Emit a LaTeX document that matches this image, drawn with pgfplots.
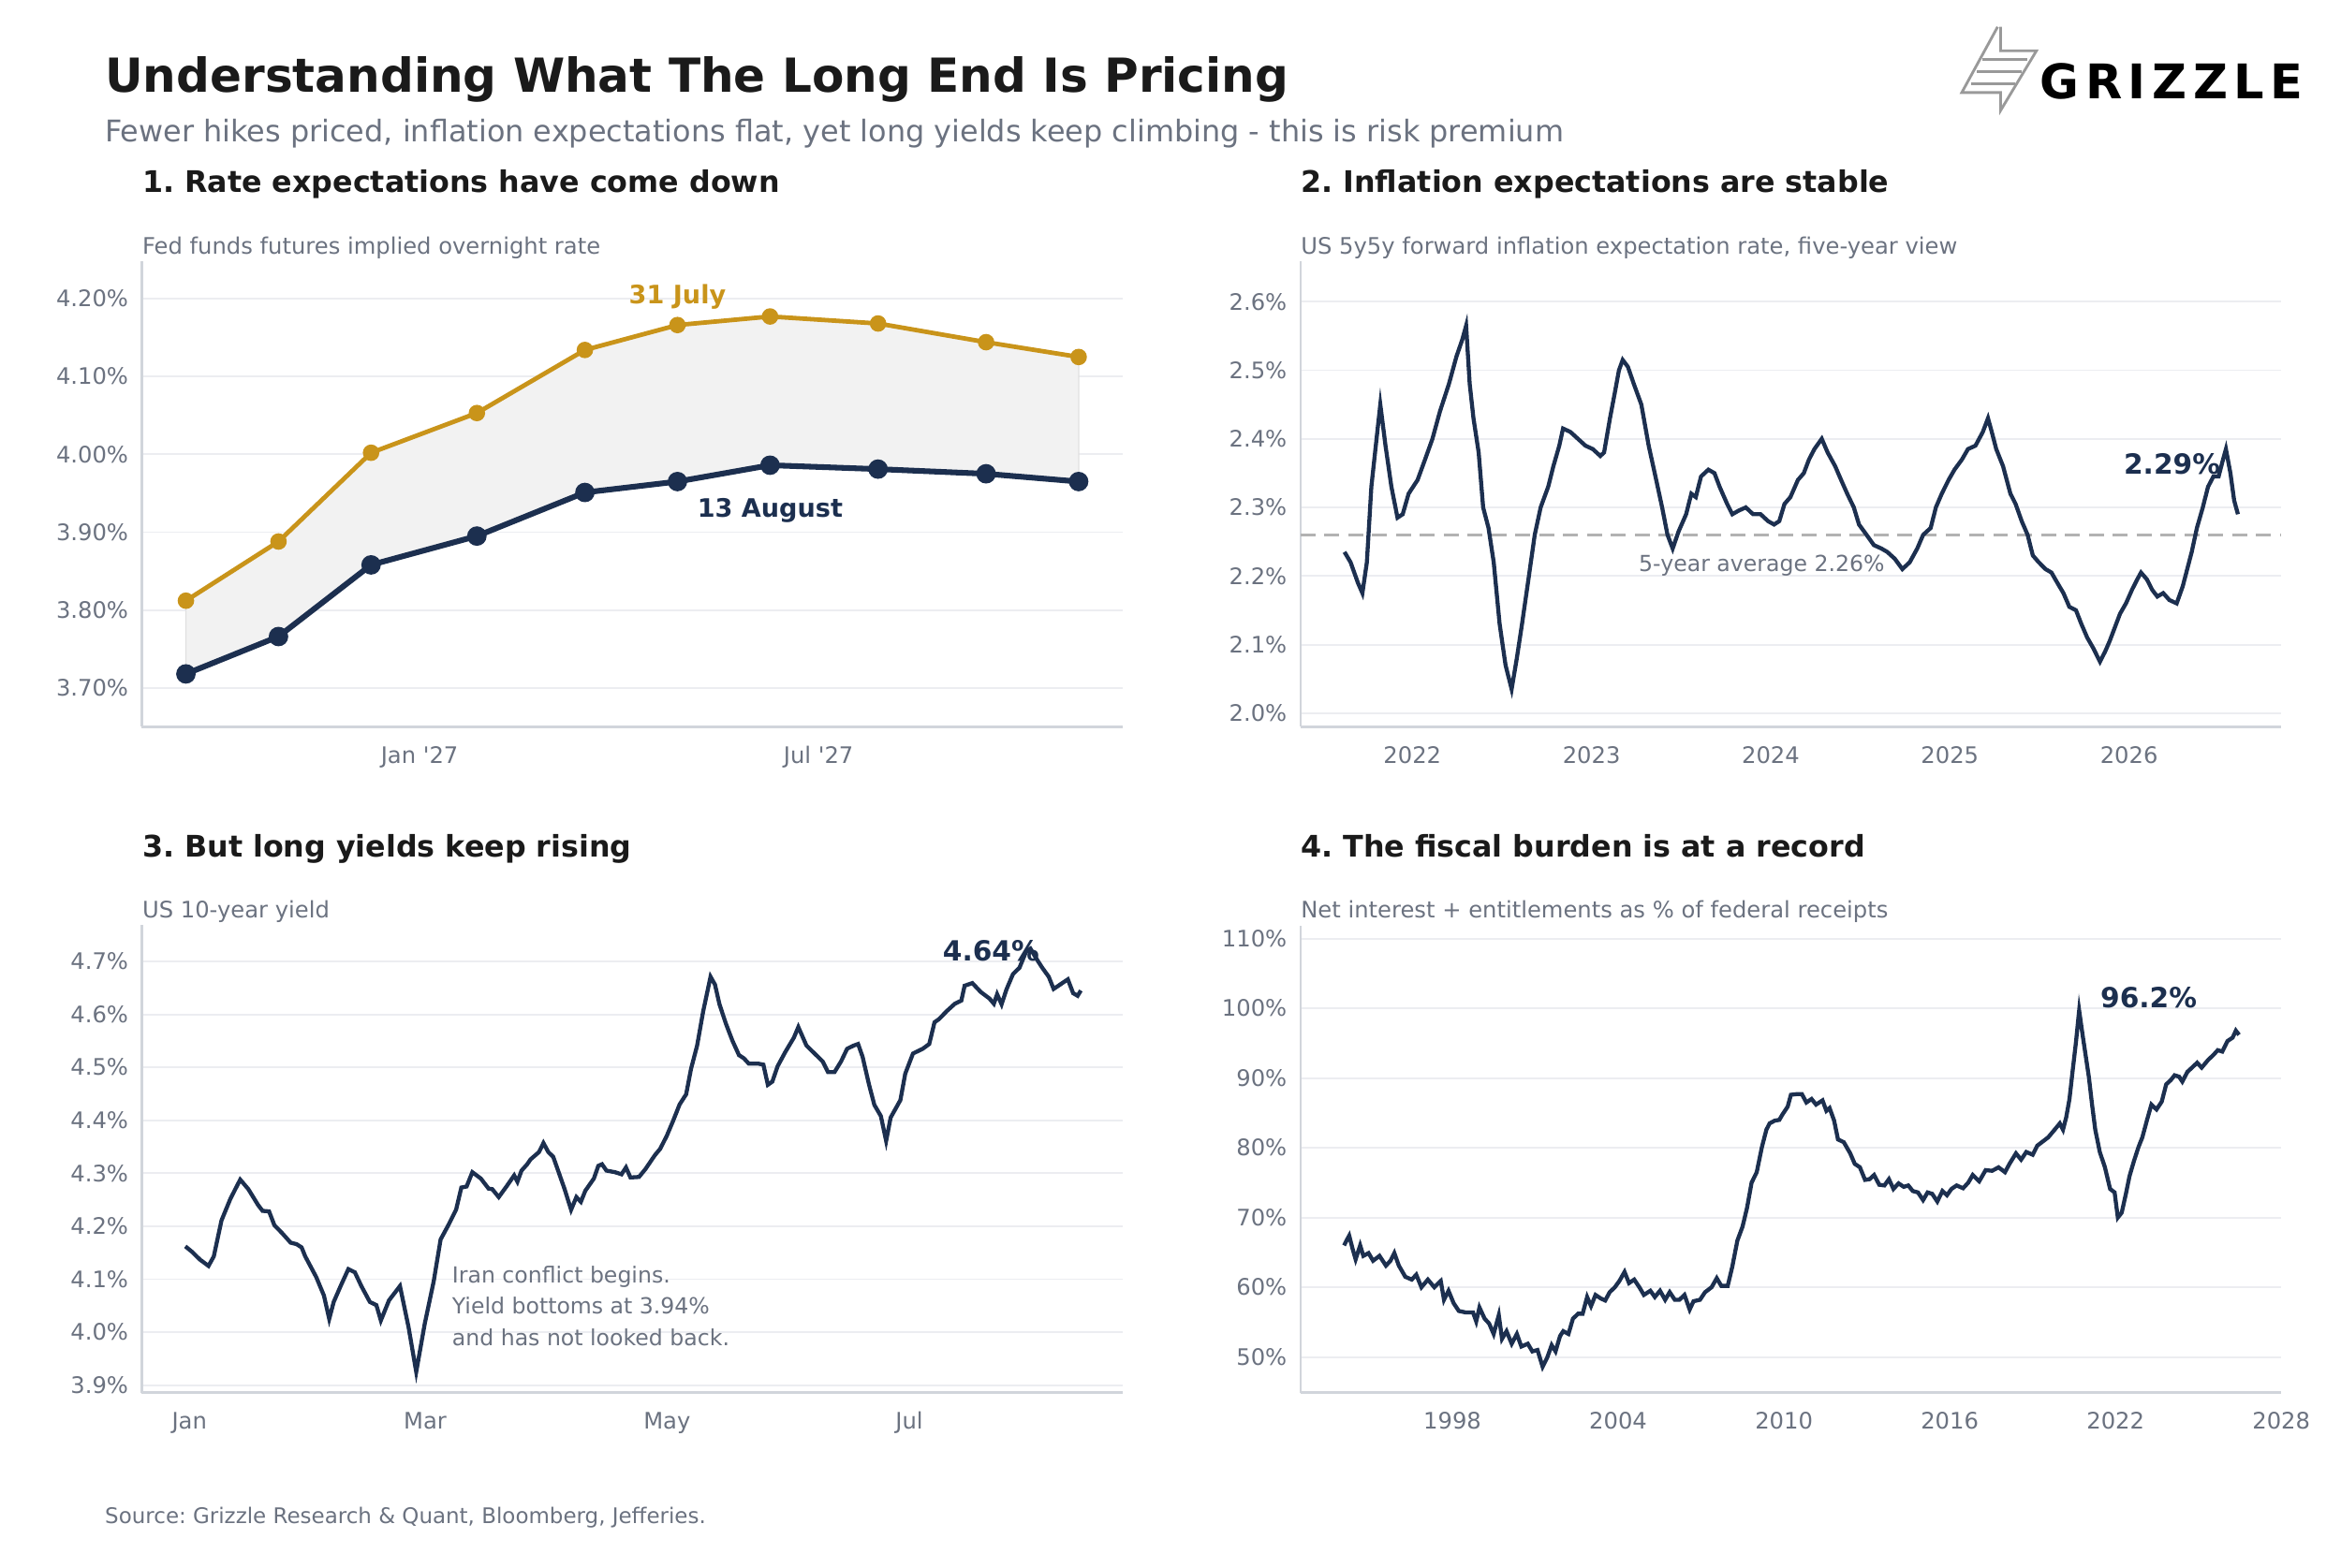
\documentclass[border=0pt]{standalone}
\usepackage{pgfplots}
\pgfplotsset{compat=1.18}
\usepackage{fontspec}
\setmainfont{DejaVu Sans}
\frenchspacing
\definecolor{navy}{HTML}{1C2F4F}
\definecolor{gold}{HTML}{C9941A}
\definecolor{txtgray}{HTML}{6B7280}
\definecolor{gridc}{HTML}{ECEDF1}
\definecolor{axc}{HTML}{D1D5DB}
\definecolor{titlec}{HTML}{1A1A1A}
\pgfplotsset{
  panel/.style={scale only axis, width=328.5pt, height=156pt, anchor=south west,
    axis x line*=bottom, axis y line*=left,
    axis line style={draw=axc, line width=0.7pt},
    ymajorgrids, grid style={draw=gridc, line width=0.6pt},
    major tick length=0pt,
    tick label style={font=\fontsize{7.6}{9}\selectfont, text=txtgray},
    /pgf/number format/assume math mode=true,
    /pgf/number format/1000 sep={},
    yticklabel style={xshift=-1pt}, xticklabel style={yshift=-3pt},
    clip=false},
}
\begin{document}
\begin{tikzpicture}
\path[use as bounding box] (0,0) rectangle (784pt,525pt);
% header
\node[anchor=base west, text=titlec, inner sep=0] at (35pt,494pt) {\fontsize{15.7}{18}\selectfont\bfseries Understanding What The Long End Is Pricing};
\node[anchor=base west, text=txtgray, inner sep=0] at (35pt,477.5pt) {\fontsize{10}{12}\selectfont Fewer hikes priced, inflation expectations flat, yet long yields keep climbing - this is risk premium};
% logo
\begin{scope}[draw=gray!80, line width=0.9pt]
\draw (669pt,516pt) -- (657pt,494pt) -- (670pt,494pt) -- (670pt,488pt) -- (682pt,508pt) -- (670pt,508pt) -- (670pt,516pt);
\draw (664pt,505pt) -- (679pt,505pt); \draw (662pt,501pt) -- (677pt,501pt); \draw (660pt,497pt) -- (675pt,497pt);
\end{scope}
\node[anchor=base west, inner sep=0] at (683pt,492pt) {\fontsize{16}{18}\selectfont\bfseries\addfontfeatures{LetterSpace=13}GRIZZLE};
% panel titles
\node[anchor=base west, text=titlec, inner sep=0] at (47.5pt,460.5pt) {\fontsize{9.95}{12}\selectfont\bfseries 1. Rate expectations have come down};
\node[anchor=base west, text=titlec, inner sep=0] at (435.5pt,460.5pt) {\fontsize{9.95}{12}\selectfont\bfseries 2. Inflation expectations are stable};
\node[anchor=base west, text=titlec, inner sep=0] at (47.5pt,238pt) {\fontsize{9.95}{12}\selectfont\bfseries 3. But long yields keep rising};
\node[anchor=base west, text=titlec, inner sep=0] at (435.5pt,238pt) {\fontsize{9.95}{12}\selectfont\bfseries 4. The fiscal burden is at a record};
\node[anchor=base west, text=txtgray, inner sep=0] at (47.5pt,440pt) {\fontsize{7.6}{9}\selectfont Fed funds futures implied overnight rate};
\node[anchor=base west, text=txtgray, inner sep=0] at (435.5pt,440pt) {\fontsize{7.6}{9}\selectfont US 5y5y forward inflation expectation rate, five-year view};
\node[anchor=base west, text=txtgray, inner sep=0] at (47.5pt,217.5pt) {\fontsize{7.6}{9}\selectfont US 10-year yield};
\node[anchor=base west, text=txtgray, inner sep=0] at (435.5pt,217.5pt) {\fontsize{7.6}{9}\selectfont Net interest + entitlements as \% of federal receipts};
\node[anchor=base west, text=txtgray, inner sep=0] at (35pt,14.5pt) {\fontsize{7.2}{8}\selectfont Source: Grizzle Research \& Quant, Bloomberg, Jefferies.};

% Panel 1
\begin{axis}[panel, at={(47.5pt,281.5pt)},
  xmin=-126, xmax=319, ymin=3.65, ymax=4.248,
  xtick={0,181}, xticklabels={Jan \textquotesingle27,Jul \textquotesingle27},
  ytick={3.7,3.8,3.9,4.0,4.1,4.2}, yticklabels={3.70\%,3.80\%,3.90\%,4.00\%,4.10\%,4.20\%}]
\addplot[fill=black!5, draw=black!12, line width=0.4pt] coordinates {
(-106,3.812) (-64,3.888) (-22,4.002) (26,4.053) (75,4.134) (117,4.166) (159,4.177) (208,4.168) (257,4.144) (299,4.125)
(299,3.965) (257,3.975) (208,3.981) (159,3.986) (117,3.965) (75,3.951) (26,3.895) (-22,3.858) (-64,3.766) (-106,3.718)} -- cycle;
\addplot[gold, line width=1.5pt, mark=*, mark size=2pt] coordinates {
(-106,3.812) (-64,3.888) (-22,4.002) (26,4.053) (75,4.134) (117,4.166) (159,4.177) (208,4.168) (257,4.144) (299,4.125)};
\addplot[navy, line width=1.9pt, mark=*, mark size=2.3pt] coordinates {
(-106,3.718) (-64,3.766) (-22,3.858) (26,3.895) (75,3.951) (117,3.965) (159,3.986) (208,3.981) (257,3.975) (299,3.965)};
\node[text=gold, font=\fontsize{8.5}{10}\selectfont\bfseries] at (axis cs:117,4.202) {31 July};
\node[text=navy, font=\fontsize{8.5}{10}\selectfont\bfseries] at (axis cs:159,3.928) {13 August};
\end{axis}

% Panel 2
\begin{axis}[panel, at={(435.5pt,281.5pt)},
  xmin=2021.375, xmax=2026.85, ymin=1.98, ymax=2.659,
  xtick={2022,2023,2024,2025,2026},
  ytick={2.0,2.1,2.2,2.3,2.4,2.5,2.6}, yticklabels={2.0\%,2.1\%,2.2\%,2.3\%,2.4\%,2.5\%,2.6\%}]
\addplot[draw=black!30, dash pattern=on 5pt off 3pt, line width=0.8pt] coordinates {(2021.375,2.26) (2026.85,2.26)};
\addplot[navy, line width=1.35pt] coordinates {
(2021.621,2.235) (2021.655,2.22) (2021.696,2.19) (2021.721,2.175) (2021.746,2.22) (2021.771,2.33) (2021.800,2.40) (2021.821,2.45) (2021.850,2.39) (2021.883,2.33) (2021.917,2.285) (2021.946,2.29) (2021.979,2.32)
(2022.029,2.34) (2022.071,2.37) (2022.112,2.40) (2022.154,2.44) (2022.204,2.48) (2022.246,2.52) (2022.279,2.545) (2022.300,2.565) (2022.320,2.48) (2022.341,2.43) (2022.370,2.38) (2022.395,2.30) (2022.425,2.27) (2022.454,2.22) (2022.487,2.13) (2022.520,2.07) (2022.554,2.035) (2022.583,2.08) (2022.612,2.13) (2022.645,2.19) (2022.683,2.26) (2022.716,2.30) (2022.758,2.33) (2022.787,2.36) (2022.820,2.39) (2022.841,2.415) (2022.882,2.41) (2022.924,2.40) (2022.966,2.39)
(2023.007,2.385) (2023.049,2.375) (2023.070,2.38) (2023.103,2.43) (2023.132,2.47) (2023.153,2.50) (2023.174,2.515) (2023.203,2.505) (2023.236,2.48) (2023.278,2.45) (2023.319,2.39) (2023.361,2.34) (2023.394,2.30) (2023.424,2.26) (2023.453,2.24) (2023.486,2.265) (2023.528,2.29) (2023.557,2.32) (2023.582,2.315) (2023.611,2.345) (2023.652,2.355) (2023.686,2.35) (2023.715,2.33) (2023.757,2.305) (2023.786,2.29) (2023.819,2.295) (2023.861,2.30) (2023.902,2.29) (2023.944,2.29) (2023.985,2.28)
(2024.019,2.275) (2024.048,2.28) (2024.077,2.305) (2024.110,2.315) (2024.152,2.34) (2024.185,2.35) (2024.214,2.37) (2024.244,2.385) (2024.285,2.40) (2024.318,2.38) (2024.360,2.36) (2024.393,2.34) (2024.427,2.32) (2024.464,2.30) (2024.493,2.275) (2024.535,2.26) (2024.576,2.245) (2024.618,2.24) (2024.651,2.235) (2024.693,2.225) (2024.735,2.21) (2024.776,2.22) (2024.818,2.24) (2024.851,2.26) (2024.893,2.27) (2024.922,2.30) (2024.955,2.32) (2024.993,2.34)
(2025.026,2.355) (2025.068,2.37) (2025.101,2.385) (2025.143,2.39) (2025.184,2.41) (2025.213,2.43) (2025.234,2.41) (2025.259,2.385) (2025.297,2.36) (2025.338,2.32) (2025.367,2.305) (2025.401,2.28) (2025.434,2.26) (2025.463,2.23) (2025.496,2.22) (2025.534,2.21) (2025.567,2.205) (2025.600,2.19) (2025.634,2.175) (2025.667,2.155) (2025.704,2.15) (2025.734,2.13) (2025.767,2.11) (2025.800,2.095) (2025.838,2.075) (2025.867,2.09) (2025.892,2.105) (2025.921,2.125) (2025.950,2.145) (2025.983,2.16)
(2026.017,2.18) (2026.046,2.195) (2026.067,2.205) (2026.100,2.195) (2026.129,2.18) (2026.158,2.17) (2026.191,2.175) (2026.225,2.165) (2026.266,2.16) (2026.300,2.185) (2026.325,2.21) (2026.350,2.235) (2026.379,2.27) (2026.412,2.30) (2026.441,2.33) (2026.471,2.345) (2026.500,2.345) (2026.525,2.37) (2026.541,2.385) (2026.566,2.35) (2026.587,2.31) (2026.608,2.29)};
\node[text=txtgray, font=\fontsize{7.4}{9}\selectfont] at (axis cs:2023.95,2.215) {5-year average 2.26\%};
\node[text=navy, font=\fontsize{9.3}{11}\selectfont\bfseries] at (axis cs:2026.24,2.363) {2.29\%};
\end{axis}

% Panel 3
\begin{axis}[panel, at={(47.5pt,58.5pt)}, height=156.5pt,
  xmin=-8.3, xmax=233, ymin=3.886, ymax=4.768,
  xtick={3.4,61.4,120.9,180.5}, xticklabels={Jan,Mar,May,Jul},
  ytick={3.9,4.0,4.1,4.2,4.3,4.4,4.5,4.6,4.7}, yticklabels={3.9\%,4.0\%,4.1\%,4.2\%,4.3\%,4.4\%,4.5\%,4.6\%,4.7\%}]
\addplot[navy, line width=1.35pt] coordinates {
(2.4,4.162) (4.0,4.152) (6.0,4.137) (8.1,4.125) (9.4,4.143) (11.3,4.211) (13.5,4.252) (15.9,4.288) (17.9,4.270) (20.3,4.240) (21.4,4.229) (23.0,4.228) (24.3,4.202) (26.2,4.187) (28.3,4.169) (29.8,4.166) (31.0,4.160) (31.9,4.143) (34.6,4.104) (36.5,4.069) (37.8,4.025) (38.9,4.057) (40.6,4.087) (42.5,4.119) (44.1,4.113) (45.7,4.087) (47.8,4.057) (49.4,4.051) (50.5,4.022) (52.5,4.060) (55.2,4.087) (57.3,4.010) (59.2,3.925) (61.3,4.016) (63.5,4.096) (65.2,4.175) (67.1,4.202) (69.0,4.231) (70.3,4.273) (71.6,4.275) (73.0,4.302) (75.1,4.290) (77.0,4.271) (77.9,4.270) (79.5,4.255) (81.4,4.275) (83.3,4.296) (84.1,4.284) (85.1,4.305) (86.5,4.317) (87.3,4.326) (89.4,4.340) (90.5,4.357) (91.7,4.340) (92.9,4.331) (94.1,4.305) (95.7,4.270) (97.3,4.231) (98.6,4.255) (99.7,4.246) (100.8,4.267) (102.9,4.290) (104.0,4.314) (104.9,4.317) (106.0,4.305) (108.1,4.302) (109.7,4.298) (110.8,4.311) (111.9,4.292) (114.0,4.293) (115.6,4.308) (117.9,4.334) (119.2,4.346) (120.8,4.370) (122.4,4.399) (124.0,4.430) (125.6,4.449) (126.8,4.497) (128.3,4.541) (129.8,4.606) (131.6,4.671) (132.7,4.656) (133.8,4.619) (135.4,4.582) (137.0,4.550) (138.6,4.523) (139.8,4.517) (141.0,4.507) (143.3,4.507) (144.6,4.505) (145.7,4.467) (146.8,4.473) (148.1,4.502) (150.0,4.529) (152.1,4.556) (153.2,4.576) (155.2,4.541) (157.6,4.523) (159.2,4.511) (160.5,4.491) (162.1,4.491) (163.7,4.511) (165.2,4.535) (166.8,4.541) (167.9,4.544) (169.0,4.520) (170.6,4.467) (171.9,4.429) (173.5,4.408) (174.8,4.361) (175.9,4.405) (178.3,4.438) (179.5,4.488) (181.4,4.526) (183.8,4.535) (185.4,4.544) (186.7,4.585) (187.8,4.591) (189.7,4.606) (191.7,4.620) (193.3,4.626) (194.1,4.654) (196.0,4.659) (198.1,4.642) (200.2,4.630) (201.3,4.620) (202.1,4.638) (203.2,4.619) (204.4,4.647) (206.0,4.676) (207.6,4.688) (209.2,4.718) (210.3,4.724) (211.6,4.707) (213.2,4.688) (214.8,4.671) (216.0,4.648) (219.5,4.666) (220.8,4.640) (221.9,4.635) (222.7,4.645)};
\node[text=navy, font=\fontsize{9.3}{11}\selectfont\bfseries] at (axis cs:200.6,4.72) {4.64\%};
\node[anchor=north west, align=left, text=txtgray, font=\fontsize{7.4}{10.5}\selectfont, inner sep=0] at (axis cs:67.9,4.126) {Iran conflict begins.\\Yield bottoms at 3.94\%\\and has not looked back.};
\end{axis}

% Panel 4
\begin{axis}[panel, at={(435.5pt,58.5pt)}, height=156.5pt,
  xmin=1992.5, xmax=2028, ymin=44.9, ymax=111.9,
  xtick={1998,2004,2010,2016,2022,2028},
  ytick={50,60,70,80,90,100,110}, yticklabels={50\%,60\%,70\%,80\%,90\%,100\%,110\%}]
\addplot[navy, line width=1.35pt] coordinates {
(1994.079,66.0) (1994.196,66.9) (1994.266,67.4) (1994.383,65.6) (1994.499,64.0) (1994.663,66.0) (1994.779,64.5) (1994.966,64.9) (1995.130,63.8) (1995.363,64.5) (1995.596,63.1) (1995.760,63.8) (1995.900,64.9) (1996.063,63.1) (1996.296,61.5) (1996.530,61.1) (1996.693,61.8) (1996.880,60.0) (1997.113,61.1) (1997.347,60.0) (1997.580,60.9) (1997.697,58.2) (1997.860,59.5) (1998.047,57.7) (1998.233,56.6) (1998.467,56.4) (1998.747,56.4) (1998.863,55.1) (1998.980,57.1) (1999.167,55.5) (1999.330,54.8) (1999.494,53.3) (1999.680,56.0) (1999.797,52.6) (1999.960,53.7) (2000.147,51.9) (2000.334,53.3) (2000.497,51.5) (2000.730,51.9) (2000.894,50.8) (2001.080,51.0) (2001.267,48.6) (2001.431,49.9) (2001.594,51.7) (2001.734,50.8) (2001.897,53.0) (2002.014,53.7) (2002.201,53.3) (2002.364,55.5) (2002.551,56.2) (2002.714,56.2) (2002.877,58.6) (2003.018,57.3) (2003.181,58.9) (2003.368,58.4) (2003.531,58.1) (2003.694,59.3) (2003.881,60.0) (2004.044,60.9) (2004.231,62.2) (2004.394,60.6) (2004.581,61.1) (2004.768,60.0) (2004.931,58.9) (2005.165,59.5) (2005.328,58.6) (2005.515,59.5) (2005.701,58.2) (2005.865,59.3) (2006.051,58.2) (2006.215,58.2) (2006.401,58.9) (2006.588,56.8) (2006.728,58.0) (2006.961,58.2) (2007.148,59.3) (2007.381,60.0) (2007.568,61.3) (2007.732,60.2) (2007.965,60.2) (2008.128,62.9) (2008.315,66.7) (2008.502,68.7) (2008.665,71.4) (2008.829,75.0) (2009.015,76.5) (2009.202,80.1) (2009.365,82.6) (2009.482,83.5) (2009.669,83.9) (2009.832,84.0) (2009.949,84.8) (2010.135,85.9) (2010.252,87.6) (2010.462,87.7) (2010.649,87.7) (2010.812,86.5) (2010.999,87.0) (2011.162,86.2) (2011.396,86.8) (2011.536,85.3) (2011.652,85.7) (2011.816,83.9) (2011.956,81.2) (2012.166,80.8) (2012.399,79.2) (2012.562,77.7) (2012.749,77.2) (2012.936,75.4) (2013.099,75.5) (2013.263,76.1) (2013.449,74.7) (2013.636,74.6) (2013.799,75.5) (2013.963,74.1) (2014.149,74.9) (2014.336,74.4) (2014.499,74.6) (2014.663,73.8) (2014.849,73.6) (2015.036,72.5) (2015.200,73.6) (2015.363,73.4) (2015.550,72.3) (2015.736,73.8) (2015.900,73.2) (2016.063,74.1) (2016.250,74.6) (2016.483,74.2) (2016.670,75.0) (2016.833,76.1) (2017.067,75.2) (2017.300,76.8) (2017.533,76.7) (2017.767,77.2) (2018.000,76.5) (2018.163,77.7) (2018.397,79.2) (2018.583,78.3) (2018.770,79.4) (2019.004,79.0) (2019.167,80.3) (2019.400,81.0) (2019.564,81.5) (2019.797,82.6) (2019.984,83.5) (2020.100,82.6) (2020.217,84.4) (2020.334,87.0) (2020.450,91.1) (2020.567,95.1) (2020.684,99.7) (2020.801,96.4) (2020.917,93.3) (2021.034,90.2) (2021.151,86.2) (2021.267,82.6) (2021.431,79.4) (2021.617,77.2) (2021.804,74.1) (2021.967,73.6) (2022.084,70.0) (2022.224,70.7) (2022.387,73.6) (2022.504,75.9) (2022.667,78.1) (2022.831,80.1) (2022.971,81.5) (2023.134,83.9) (2023.298,86.2) (2023.484,85.5) (2023.671,86.6) (2023.834,89.1) (2023.998,89.7) (2024.138,90.4) (2024.301,90.2) (2024.418,89.5) (2024.604,90.9) (2024.768,91.5) (2024.954,92.2) (2025.118,91.5) (2025.351,92.6) (2025.538,93.3) (2025.701,94.0) (2025.865,93.8) (2026.051,95.3) (2026.238,95.8) (2026.355,96.8) (2026.471,96.2)};
\node[text=navy, font=\fontsize{9.3}{11}\selectfont\bfseries] at (axis cs:2023.2,101.5) {96.2\%};
\end{axis}
\end{tikzpicture}
\end{document}
